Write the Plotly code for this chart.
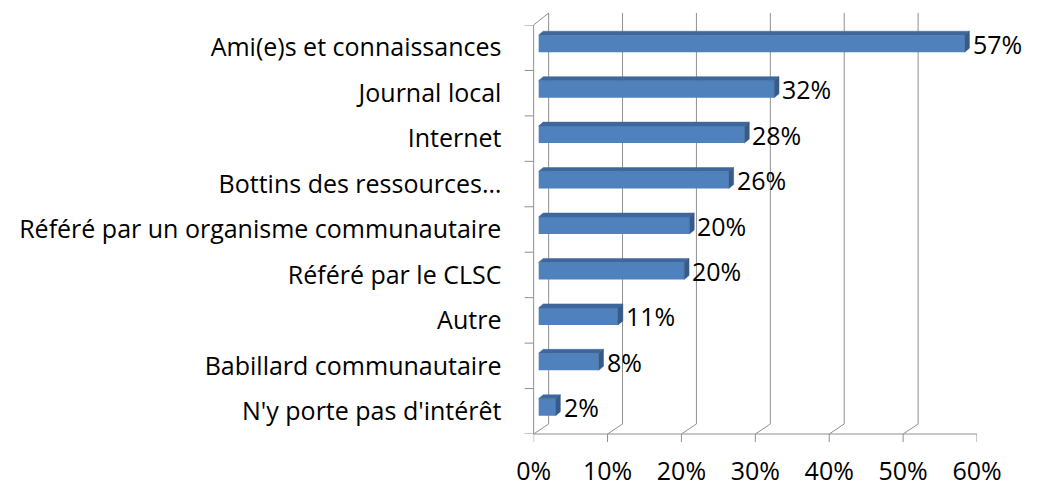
import plotly.graph_objects as go

categories = [
    "Ami(e)s et connaissances",
    "Journal local",
    "Internet",
    "Bottins des ressources…",
    "Référé par un organisme communautaire",
    "Référé par le CLSC",
    "Autre",
    "Babillard communautaire",
    "N'y porte pas d'intérêt",
]
values = [0.573, 0.317, 0.277, 0.256, 0.203, 0.196, 0.107, 0.081, 0.023]
tick_values = [0, 0.1, 0.2, 0.3, 0.4, 0.5, 0.6]

W, H = 1042, 488
FONT = "Open Sans"
FS = 25
GRID = "#909090"
FRONT = "#4F81BD"
TOP = "#3e689c"
SIDE = "#355b8a"

# layout geometry (pixels)
bar_x0, bar_x1 = 535, 1000
front_x0, front_x1 = 530, 992
plot_top, plot_bottom = 17, 426
XMAX = 0.6
DEPTH_X, DEPTH_FLOOR, DEPTH_TOP = 15, 10, 12
band = (plot_bottom - plot_top) / len(categories)
face_top, face_bot = 12.5, -4.5      # front face edges relative to band centre (px, up)
bevel_x, bevel_y = 5, 4
DX = bevel_x * XMAX / (bar_x1 - bar_x0)

fig = go.Figure()
fig.add_trace(go.Bar(
    x=values, y=categories, orientation="h",
    marker=dict(color=FRONT, line=dict(width=0)),
    width=(face_top - face_bot) / band,
    offset=-face_top / band,
    hoverinfo="skip",
))
fig.add_trace(go.Scatter(x=[], y=[], xaxis="x2", yaxis="y", showlegend=False))

shapes = []
# back-wall grid lines, floor diagonals, front tick marks
for v in tick_values:
    shapes.append(dict(type="line", layer="below", xref="x2", xsizemode="pixel", xanchor=v,
                       x0=DEPTH_X, x1=DEPTH_X, yref="y domain", ysizemode="pixel", yanchor=0,
                       y0=DEPTH_FLOOR, y1=plot_bottom - plot_top + DEPTH_TOP,
                       line=dict(color=GRID, width=1)))
    shapes.append(dict(type="line", layer="below", xref="x2", xsizemode="pixel", xanchor=v,
                       x0=0, x1=DEPTH_X, yref="y domain", ysizemode="pixel", yanchor=0,
                       y0=0, y1=DEPTH_FLOOR, line=dict(color=GRID, width=1)))
    shapes.append(dict(type="line", layer="below", xref="x2", xsizemode="pixel", xanchor=v,
                       x0=0, x1=0, yref="y domain", ysizemode="pixel", yanchor=0,
                       y0=0, y1=-8, line=dict(color=GRID, width=1)))
# floor front line
shapes.append(dict(type="line", layer="below", xref="x2 domain", x0=0, x1=1,
                   yref="y domain", y0=0, y1=0, line=dict(color=GRID, width=1)))
# left wall front edge
shapes.append(dict(type="line", layer="below", xref="x2 domain", x0=0, x1=0,
                   yref="y domain", y0=0, y1=1, line=dict(color=GRID, width=1)))
# left wall top diagonal
shapes.append(dict(type="line", layer="below", xref="x2 domain", xsizemode="pixel", xanchor=0,
                   x0=0, x1=DEPTH_X, yref="y domain", ysizemode="pixel", yanchor=1,
                   y0=0, y1=DEPTH_TOP, line=dict(color=GRID, width=1)))
# category tick marks
for k in range(len(categories) + 1):
    shapes.append(dict(type="line", layer="below", xref="x2 domain", xsizemode="pixel", xanchor=0,
                       x0=-9, x1=0, yref="y", y0=k - 0.5, y1=k - 0.5,
                       line=dict(color=GRID, width=1)))

# 3D faces of bars
for i, v in enumerate(values):
    top_path = (f"M 0,{face_top} L {v},{face_top} L {v + DX},{face_top + bevel_y} "
                f"L {DX},{face_top + bevel_y} Z")
    shapes.append(dict(type="path", layer="above", xref="x", xsizemode="scaled",
                       yref="y", ysizemode="pixel", yanchor=i, path=top_path,
                       fillcolor=TOP, line=dict(color=TOP, width=0.5)))
    side_path = (f"M {v},{face_top} L {v + DX},{face_top + bevel_y} "
                 f"L {v + DX},{face_bot + bevel_y} L {v},{face_bot} Z")
    shapes.append(dict(type="path", layer="above", xref="x", xsizemode="scaled",
                       yref="y", ysizemode="pixel", yanchor=i, path=side_path,
                       fillcolor=SIDE, line=dict(color=SIDE, width=0.5)))

annotations = []
for i, v in enumerate(values):
    annotations.append(dict(x=v, y=i, xref="x", yref="y", text=f"{round(v * 100)}%",
                            showarrow=False, xanchor="left", yanchor="middle",
                            xshift=6, yshift=4,
                            font=dict(family=FONT, size=FS, color="black")))

fig.update_layout(
    width=W, height=H,
    margin=dict(l=0, r=0, t=0, b=0),
    paper_bgcolor="white", plot_bgcolor="rgba(0,0,0,0)",
    showlegend=False,
    font=dict(family=FONT, size=FS, color="black"),
    xaxis=dict(domain=[bar_x0 / W, bar_x1 / W], range=[0, XMAX], showgrid=False,
               zeroline=False, showticklabels=False, showline=False, ticks=""),
    xaxis2=dict(domain=[front_x0 / W, front_x1 / W], range=[0, XMAX], anchor="y",
                tickvals=tick_values, tickformat=".0%", showgrid=False, zeroline=False,
                showline=False, ticks="", ticklabelstandoff=20,
                tickfont=dict(family=FONT, size=FS, color="black")),
    yaxis=dict(domain=[1 - plot_bottom / H, 1 - plot_top / H], type="category",
               categoryorder="array", categoryarray=categories,
               range=[len(categories) - 0.5, -0.5], showgrid=False, zeroline=False,
               showline=False, ticks="", ticklabelstandoff=36, automargin=False,
               tickfont=dict(family=FONT, size=FS, color="black")),
    shapes=shapes,
    annotations=annotations,
)

fig.write_html("out.html")
